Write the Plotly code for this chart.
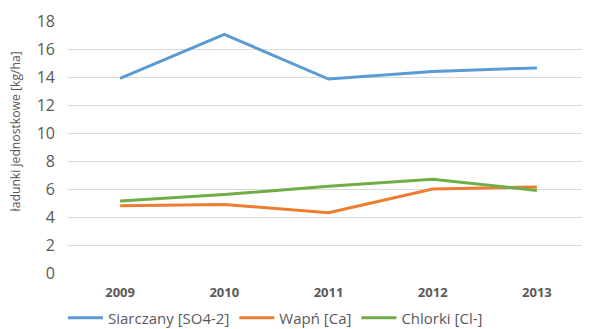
import plotly.graph_objects as go

years = ["2009", "2010", "2011", "2012", "2013"]
siarczany = [13.9, 17.05, 13.85, 14.4, 14.65]
wapn = [4.8, 4.9, 4.3, 6.0, 6.15]
chlorki = [5.15, 5.6, 6.2, 6.7, 5.9]
series_names = ["Siarczany [SO4-2]", "Wapń [Ca]", "Chlorki [Cl-]"]
colors = ["#5B9BD5", "#ED7D31", "#70AD47"]
y_ticks = [0, 2, 4, 6, 8, 10, 12, 14, 16, 18]
y_title = "ładunki jednostkowe [kg/ha]"

FONT = "'Open Sans', sans-serif"
fig = go.Figure()
for name, vals, c in zip(series_names, [siarczany, wapn, chlorki], colors):
    fig.add_trace(go.Scatter(x=years, y=vals, mode="lines", name=name,
                             line=dict(color=c, width=3)))

fig.add_annotation(text=y_title, xref="paper", yref="paper", x=-0.1, y=0.5615,
                   textangle=-90, showarrow=False, xanchor="center", yanchor="middle",
                   font=dict(size=12.2, color="#595959"))

fig.update_layout(
    width=582, height=321,
    margin=dict(l=60, r=1, t=13, b=56),
    paper_bgcolor="white", plot_bgcolor="white",
    font=dict(family=FONT, color="#595959"),
    showlegend=True,
    legend=dict(orientation="h", xref="container", yref="container",
                x=0.0945, xanchor="left", y=0.034, yanchor="middle",
                font=dict(size=15, color="#595959"), itemwidth=35,
                tracegroupgap=0),
    xaxis=dict(type="category", showgrid=False, showline=False, zeroline=False,
               automargin=False,
               tickfont=dict(size=13, color="#595959", weight="bold"),
               ticklabelstandoff=10, range=[-0.5, 4.5]),
    yaxis=dict(range=[0, 18], tickvals=y_ticks, showgrid=True, gridcolor="#D9D9D9",
               gridwidth=1, zeroline=False, showline=False, automargin=False,
               tickfont=dict(size=16, color="#595959"), ticklabelstandoff=12),
)
fig.write_html("out.html")
